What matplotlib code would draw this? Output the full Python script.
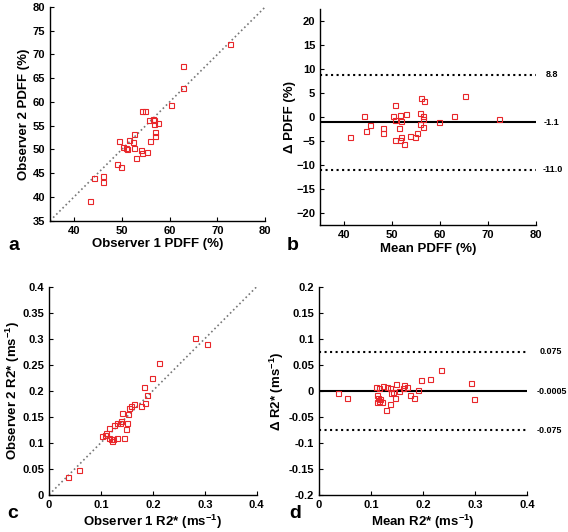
import matplotlib
matplotlib.use('Agg')
import matplotlib.pyplot as plt
import matplotlib.transforms as mtransforms
from matplotlib.ticker import FuncFormatter

plt.rcParams['font.family'] = ['Liberation Sans', 'DejaVu Sans']
plt.rcParams['font.weight'] = 'bold'
plt.rcParams['mathtext.fontset'] = 'custom'
plt.rcParams['mathtext.rm'] = 'Liberation Sans:bold'
plt.rcParams['mathtext.default'] = 'rm'

# panel a: observer 1 vs observer 2 PDFF (%)
pdff_obs1 = [72.6, 62.9, 62.8, 60.4, 54.2, 54.8, 55.7, 56.5, 56.7, 56.7, 57.6,
             57.0, 57.0, 52.55, 55.9, 51.5, 49.5, 52.4, 50.25, 50.8, 51.0, 52.6,
             54.1, 54.2, 55.3, 53.0, 49.1, 49.8, 44.2, 46.1, 46.1, 43.4]
pdff_obs2 = [72.2, 67.6, 63.0, 59.3, 58.1, 58.2, 56.3, 56.45, 56.3, 55.4, 55.5,
             53.6, 52.9, 53.3, 51.8, 52.0, 51.8, 51.55, 50.5, 50.4, 50.2, 50.3,
             49.8, 49.2, 49.45, 48.2, 46.9, 46.4, 44.1, 44.5, 43.2, 39.1]

# panel b: Bland-Altman PDFF
pdff_mean = [41.3, 44.2, 44.7, 45.4, 48.1, 48.2, 50.6, 50.3, 50.65, 50.6, 51.6,
             51.4, 52.0, 52.9, 51.9, 51.7, 52.5, 53.8, 54.8, 55.3, 55.8, 56.1,
             56.6, 56.4, 56.5, 55.9, 56.4, 59.8, 63.0, 65.3, 72.4]
pdff_diff = [-4.2, 0.23, -2.9, -1.6, -2.3, -3.25, 2.5, 0.23, -0.67, -4.8, 0.44,
             -2.3, -0.88, 0.65, -4.2, -4.86, -5.7, -4.0, -4.2, -3.25, 0.87, 4.08,
             3.3, 0.23, -0.46, -1.36, -2.0, -1.0, 0.25, 4.5, -0.5]
pdff_bias = -1.1
pdff_loa = [8.8, -11.0]

# panel c: observer 1 vs observer 2 R2* (ms^-1)
r2_obs1 = [0.281, 0.3037, 0.2125, 0.198, 0.183, 0.188, 0.1855, 0.1766, 0.1637,
           0.157, 0.1547, 0.152, 0.1406, 0.139, 0.1367, 0.130, 0.125, 0.1496,
           0.148, 0.116, 0.1098, 0.107, 0.102, 0.115, 0.119, 0.1227, 0.1213,
           0.130, 0.1445, 0.036, 0.057]
r2_obs2 = [0.3006, 0.2904, 0.254, 0.2244, 0.2065, 0.1917, 0.1757, 0.1705, 0.1744,
           0.170, 0.166, 0.155, 0.157, 0.141, 0.138, 0.1385, 0.1334, 0.1385,
           0.1257, 0.128, 0.119, 0.114, 0.113, 0.109, 0.1077, 0.1077, 0.1027,
           0.110, 0.110, 0.035, 0.047]

# panel d: Bland-Altman R2*
r2_mean = [0.0365, 0.053, 0.109, 0.1154, 0.1237, 0.130, 0.136, 0.112, 0.113,
           0.1148, 0.1115, 0.121, 0.117, 0.138, 0.1417, 0.1455, 0.149, 0.153,
           0.162, 0.1635, 0.170, 0.175, 0.1827, 0.191, 0.1955, 0.213, 0.234,
           0.137, 0.129, 0.2917, 0.298]
r2_diff = [-0.003, -0.013, 0.007, 0.005, 0.010, 0.007, 0.006, -0.0077, -0.013,
           -0.019, -0.022, -0.022, -0.016, -0.0045, -0.0013, -0.013, 0.0134,
           0.0006, 0.0058, 0.0115, 0.0083, -0.0077, -0.013, 0.0025, 0.021,
           0.0236, 0.040, -0.025, -0.037, 0.016, -0.0147]
r2_bias = -0.0005
r2_loa = [0.075, -0.075]

red = '#e8262a'
fmt = FuncFormatter(lambda v, p: ('%g' % round(v, 4)))

fig = plt.figure(figsize=(5.68, 5.32), dpi=100)
ax_a = fig.add_axes([0.088, 0.585, 0.379, 0.402])
ax_b = fig.add_axes([0.5634, 0.577, 0.3797, 0.406])
ax_c = fig.add_axes([0.0863, 0.0701, 0.3657, 0.391])
ax_d = fig.add_axes([0.5616, 0.069, 0.3662, 0.392])


def style(ax):
    for s in ['top', 'right']:
        ax.spines[s].set_visible(False)
    for s in ['left', 'bottom']:
        ax.spines[s].set_linewidth(1.0)
    ax.tick_params(direction='in', length=3, width=0.8, labelsize=8)
    for lab in ax.get_xticklabels() + ax.get_yticklabels():
        lab.set_fontweight('bold')


def scatter(ax, x, y):
    ax.plot(x, y, 's', ms=3.6, mfc='none', mec=red, mew=0.8, ls='none')


# a
ax_a.plot([35, 80], [35, 80], ls=':', color='#777777', lw=1.2)
scatter(ax_a, pdff_obs1, pdff_obs2)
ax_a.set_xlim(35, 80)
ax_a.set_ylim(35, 80)
ax_a.set_xticks([40, 50, 60, 70, 80])
ax_a.set_yticks(range(35, 81, 5))
ax_a.set_xlabel('Observer 1 PDFF (%)', fontsize=9.5, fontweight='bold', labelpad=2)
ax_a.set_ylabel('Observer 2 PDFF (%)', fontsize=9.5, fontweight='bold', labelpad=2)
style(ax_a)

# b
ax_b.axhline(pdff_bias, color='black', lw=1.5)
for v in pdff_loa:
    ax_b.axhline(v, color='black', ls=':', lw=1.5)
scatter(ax_b, pdff_mean, pdff_diff)
ax_b.set_xlim(35, 80)
ax_b.set_ylim(-22.6, 22.6)
ax_b.set_xticks([40, 50, 60, 70, 80])
ax_b.set_yticks(range(-20, 21, 5))
ax_b.set_xlabel('Mean PDFF (%)', fontsize=9.5, fontweight='bold', labelpad=2)
ax_b.set_ylabel('Δ PDFF (%)', fontsize=9.5, fontweight='bold', labelpad=0)
tr = mtransforms.blended_transform_factory(ax_b.transAxes, ax_b.transData)
for v, xo in zip([pdff_loa[0], pdff_bias, pdff_loa[1]], [1.048, 1.035, 1.03]):
    ax_b.text(xo, v, '%.1f' % v, transform=tr, fontsize=6.5, fontweight='bold',
              va='center', ha='left')
style(ax_b)

# c
ax_c.plot([0, 0.4], [0, 0.4], ls=':', color='#777777', lw=1.2)
scatter(ax_c, r2_obs1, r2_obs2)
ax_c.set_xlim(0, 0.4)
ax_c.set_ylim(0, 0.4)
ax_c.set_xticks([0, 0.1, 0.2, 0.3, 0.4])
ax_c.set_yticks([0, 0.05, 0.1, 0.15, 0.2, 0.25, 0.3, 0.35, 0.4])
ax_c.xaxis.set_major_formatter(fmt)
ax_c.yaxis.set_major_formatter(fmt)
ax_c.set_xlabel('Observer 1 R2* (ms$^{-1}$)', fontsize=9.5, fontweight='bold', labelpad=2)
ax_c.set_ylabel('Observer 2 R2* (ms$^{-1}$)', fontsize=9.5, fontweight='bold', labelpad=0)
style(ax_c)

# d
ax_d.axhline(r2_bias, color='black', lw=1.5)
for v in r2_loa:
    ax_d.axhline(v, color='black', ls=':', lw=1.5)
scatter(ax_d, r2_mean, r2_diff)
ax_d.set_xlim(0, 0.4)
ax_d.set_ylim(-0.2, 0.2)
ax_d.set_xticks([0, 0.1, 0.2, 0.3, 0.4])
ax_d.set_yticks([-0.2, -0.15, -0.1, -0.05, 0, 0.05, 0.1, 0.15, 0.2])
ax_d.xaxis.set_major_formatter(fmt)
ax_d.yaxis.set_major_formatter(fmt)
ax_d.set_xlabel('Mean R2* (ms$^{-1}$)', fontsize=9.5, fontweight='bold', labelpad=2)
ax_d.set_ylabel('Δ R2* (ms$^{-1}$)', fontsize=9.5, fontweight='bold', labelpad=2)
tr = mtransforms.blended_transform_factory(ax_d.transAxes, ax_d.transData)
ax_d.text(1.063, r2_loa[0], '0.075', transform=tr, fontsize=6.5, fontweight='bold', va='center')
ax_d.text(1.045, r2_bias, '-0.0005', transform=tr, fontsize=6.5, fontweight='bold', va='center')
ax_d.text(1.048, r2_loa[1], '-0.075', transform=tr, fontsize=6.5, fontweight='bold', va='center')
style(ax_d)

# panel letters
for lbl, x, y in [('a', 8, 245), ('b', 287, 245), ('c', 7, 513), ('d', 289, 513)]:
    fig.text(x / 568, 1 - y / 532, lbl, fontsize=14, fontweight='bold', va='center', ha='left')

fig.savefig('out.png', dpi=100)
